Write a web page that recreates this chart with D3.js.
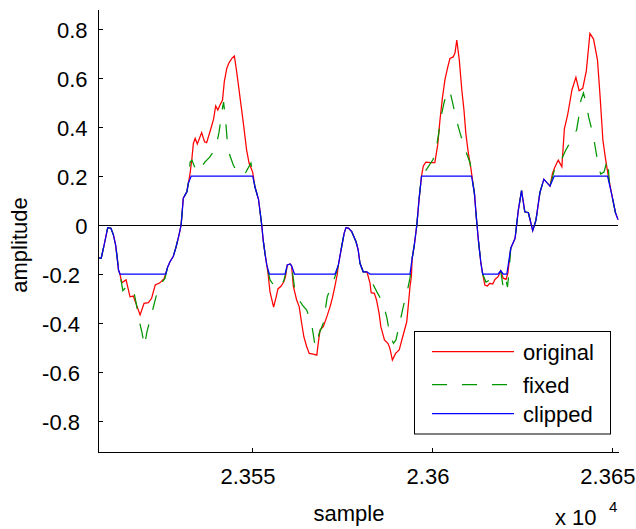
<!DOCTYPE html>
<html>
<head>
<meta charset="utf-8">
<script src="https://cdn.jsdelivr.net/npm/d3@7"></script>
<style>
    body { margin: 0; background: #fff; }
    text { font-family: "Liberation Sans", Arial, sans-serif; fill: #000; }
</style>
</head>
<body>
<div id="chart"></div>
<script>
// Clipped signal, [sample, amplitude]
const clipped = [
    [23507.2, -0.135], [23508.1, -0.135], [23509.0, -0.075], [23509.9, -0.011], [23510.8, -0.013],
    [23511.5, -0.041], [23512.1, -0.082], [23512.5, -0.129], [23512.9, -0.184], [23513.3, -0.2],
    [23526.0, -0.2], [23526.6, -0.170], [23527.2, -0.150], [23528.1, -0.129], [23528.9, -0.089],
    [23529.7, -0.041], [23530.3, 0], [23530.9, 0.109], [23531.9, 0.136], [23532.3, 0.170], [23533.1, 0.2],
    [23550.2, 0.2], [23550.8, 0.156], [23551.8, 0.105], [23552.7, 0], [23553.1, -0.061],
    [23553.6, -0.116], [23554.1, -0.163], [23554.8, -0.2],
    [23559.2, -0.2], [23559.8, -0.163], [23560.6, -0.159], [23561.0, -0.167], [23561.8, -0.2],
    [23573.1, -0.2], [23574.0, -0.163], [23574.9, -0.089], [23575.6, -0.034], [23576.1, -0.011],
    [23576.8, -0.013], [23577.7, -0.027], [23578.9, -0.068], [23579.5, -0.102], [23580.0, -0.156],
    [23580.9, -0.191], [23581.9, -0.191], [23582.8, -0.2],
    [23593.9, -0.2], [23594.5, -0.136], [23595.1, -0.082], [23595.8, 0], [23596.4, 0.102], [23597.1, 0.2],
    [23611.0, 0.2], [23611.8, 0.129], [23612.4, 0.020], [23612.9, -0.061], [23613.6, -0.156], [23614.1, -0.2],
    [23618.4, -0.2], [23619.1, -0.187], [23619.8, -0.2], [23620.8, -0.2], [23621.9, -0.095],
    [23623.1, -0.054], [23624.0, 0.061], [23624.9, 0.140], [23625.8, 0.054], [23626.8, 0.050],
    [23628.0, -0.023], [23628.9, 0.020], [23630.0, 0.132], [23631.1, 0.187], [23632.8, 0.159], [23634.0, 0.2],
    [23648.8, 0.2], [23649.9, 0.129], [23651.0, 0.050], [23651.7, 0.022]
];

// Original signal where it went past the clip level
const originalParts = [
    [[23513.3, -0.2], [23513.8, -0.236], [23515.0, -0.224], [23516.1, -0.293], [23517.0, -0.290],
     [23518.9, -0.367], [23520.0, -0.320], [23521.2, -0.317], [23522.1, -0.299], [23523.1, -0.245],
     [23524.4, -0.236], [23525.6, -0.218], [23526.6, -0.170]],
    [[23532.3, 0.170], [23532.8, 0.212], [23533.3, 0.272], [23533.7, 0.333], [23534.2, 0.354],
     [23534.8, 0.331], [23536.0, 0.377], [23536.8, 0.340], [23537.4, 0.336], [23538.6, 0.395],
     [23539.3, 0.431], [23539.9, 0.486], [23540.5, 0.469], [23541.1, 0.490], [23541.8, 0.510],
     [23542.3, 0.585], [23543.0, 0.640], [23543.6, 0.662], [23544.4, 0.680], [23545.1, 0.690],
     [23545.8, 0.619], [23546.7, 0.517], [23547.6, 0.415], [23548.5, 0.306], [23549.2, 0.252],
     [23550.2, 0.215], [23550.8, 0.156]],
    [[23554.1, -0.163], [23554.4, -0.192], [23555.0, -0.273], [23556.0, -0.335], [23556.7, -0.294],
     [23557.2, -0.261], [23558.1, -0.249], [23558.8, -0.233], [23559.3, -0.212], [23559.8, -0.163]],
    [[23561.0, -0.167], [23561.5, -0.252], [23562.4, -0.306], [23563.1, -0.333], [23563.8, -0.401],
     [23564.4, -0.456], [23565.2, -0.497], [23565.9, -0.524], [23567.0, -0.527], [23568.0, -0.531],
     [23568.4, -0.483], [23568.9, -0.429], [23569.8, -0.415], [23570.8, -0.374], [23571.7, -0.333],
     [23572.4, -0.293], [23573.1, -0.245], [23573.7, -0.2], [23574.0, -0.163]],
    [[23581.9, -0.191], [23582.2, -0.205], [23582.8, -0.238], [23583.1, -0.276], [23584.0, -0.279],
     [23584.6, -0.306], [23585.3, -0.360], [23585.8, -0.415], [23586.8, -0.469], [23587.8, -0.484],
     [23588.3, -0.503], [23589.0, -0.551], [23589.9, -0.524], [23590.9, -0.510], [23592.0, -0.449],
     [23593.0, -0.395], [23593.4, -0.333], [23593.9, -0.252], [23594.3, -0.208], [23594.5, -0.136]],
    [[23596.4, 0.102], [23597.1, 0.2], [23597.6, 0.241], [23598.3, 0.257], [23599.7, 0.255],
     [23600.8, 0.255], [23601.6, 0.327], [23602.2, 0.424], [23602.9, 0.518], [23603.6, 0.592],
     [23604.4, 0.645], [23605.0, 0.680], [23605.9, 0.686], [23606.4, 0.702], [23606.9, 0.755],
     [23607.6, 0.673], [23608.3, 0.551], [23608.9, 0.469], [23609.4, 0.376], [23610.1, 0.294],
     [23610.8, 0.233], [23611.3, 0.180], [23611.8, 0.129]],
    [[23614.1, -0.2], [23614.7, -0.245], [23615.4, -0.249], [23616.1, -0.238], [23616.9, -0.241],
     [23617.5, -0.222], [23618.4, -0.211], [23619.1, -0.187], [23619.8, -0.217], [23620.6, -0.222],
     [23621.1, -0.196], [23621.9, -0.095]],
    [[23632.8, 0.159], [23633.5, 0.211], [23634.2, 0.238], [23635.1, 0.265], [23636.1, 0.238],
     [23636.8, 0.392], [23637.7, 0.449], [23638.9, 0.551], [23640.0, 0.603], [23640.9, 0.548],
     [23641.9, 0.558], [23642.9, 0.629], [23643.9, 0.782], [23644.9, 0.759], [23646.0, 0.673],
     [23646.7, 0.530], [23647.5, 0.347], [23648.2, 0.273], [23649.0, 0.2], [23649.3, 0.176],
     [23649.9, 0.129]]
];

// Fixed (restored) signal over the same stretches
const fixedParts = [
    [[23513.3, -0.2], [23514.1, -0.268], [23515.0, -0.253], [23516.1, -0.249], [23517.0, -0.262],
     [23517.8, -0.318], [23518.6, -0.388], [23519.4, -0.437], [23520.1, -0.494], [23520.8, -0.436],
     [23521.9, -0.374], [23522.9, -0.317], [23524.0, -0.254], [23525.0, -0.233], [23525.8, -0.218],
     [23526.6, -0.170]],
    [[23532.3, 0.170], [23532.8, 0.257], [23533.3, 0.265], [23534.6, 0.216], [23535.8, 0.233],
     [23536.9, 0.257], [23538.3, 0.278], [23539.2, 0.298], [23540.2, 0.335], [23540.8, 0.376],
     [23541.8, 0.478], [23542.1, 0.502], [23542.7, 0.420], [23543.1, 0.347], [23543.6, 0.294],
     [23544.8, 0.245], [23546.1, 0.208], [23547.5, 0.204], [23548.3, 0.216], [23549.7, 0.253],
     [23550.4, 0.2], [23550.8, 0.156]],
    [[23554.1, -0.163], [23555.0, -0.224], [23555.8, -0.241], [23556.7, -0.249], [23557.8, -0.258],
     [23558.9, -0.224], [23559.4, -0.192], [23559.8, -0.163]],
    [[23561.0, -0.167], [23561.9, -0.265], [23563.1, -0.306], [23564.0, -0.327], [23565.2, -0.347],
     [23566.6, -0.408], [23567.5, -0.490], [23568.0, -0.497], [23568.6, -0.445], [23569.8, -0.401],
     [23570.9, -0.293], [23572.4, -0.238], [23573.3, -0.2], [23574.0, -0.163]],
    [[23581.9, -0.191], [23582.3, -0.2], [23583.3, -0.233], [23584.7, -0.273], [23586.4, -0.318],
     [23587.5, -0.380], [23588.3, -0.449], [23589.3, -0.483], [23590.0, -0.469], [23591.1, -0.396],
     [23592.0, -0.335], [23593.1, -0.273], [23593.9, -0.216], [23594.5, -0.136]],
    [[23596.4, 0.102], [23597.1, 0.2], [23598.1, 0.218], [23600.3, 0.267], [23601.3, 0.322],
     [23601.9, 0.376], [23602.5, 0.441], [23603.4, 0.502], [23604.2, 0.539], [23604.8, 0.551],
     [23605.3, 0.527], [23606.2, 0.469], [23606.9, 0.424], [23607.8, 0.376], [23609.0, 0.318],
     [23610.6, 0.253], [23611.1, 0.2], [23611.8, 0.129]],
    [[23614.1, -0.2], [23615.0, -0.233], [23616.1, -0.224], [23617.2, -0.208], [23618.3, -0.196],
     [23619.1, -0.187], [23619.7, -0.245], [23620.3, -0.208], [23621.0, -0.253], [23621.4, -0.192],
     [23621.9, -0.095]],
    [[23632.8, 0.159], [23634.2, 0.233], [23635.0, 0.237], [23636.3, 0.278], [23637.2, 0.306],
     [23638.3, 0.335], [23640.2, 0.388], [23640.8, 0.441], [23641.4, 0.510], [23642.1, 0.539],
     [23642.8, 0.496], [23643.6, 0.437], [23644.8, 0.367], [23645.6, 0.298], [23646.3, 0.237],
     [23646.9, 0.208], [23647.8, 0.216], [23648.8, 0.269], [23649.3, 0.176], [23649.9, 0.129]]
];

const yTicks = [-0.8, -0.6, -0.4, -0.2, 0, 0.2, 0.4, 0.6, 0.8];
const xTicks = [23550, 23600, 23650];
const xTickLabels = ['2.355', '2.36', '2.365'];

const seriesNames = ['original', 'fixed', 'clipped'];
const seriesColors = ['#ff0000', '#009600', '#0000ff'];
const seriesDash = [null, '15,15', null];

// Put the stretches back into the clipped signal to get full series
function splice(base, parts) {
    let out = base.slice();
    parts.forEach(part => {
        const s0 = part[0][0];
        const s1 = part[part.length - 1][0];
        out = out.filter(p => p[0] < s0 || p[0] > s1).concat(part);
    });
    return out.sort((a, b) => a[0] - b[0]);
}

const original = splice(clipped, originalParts);
const fixed = splice(clipped, fixedParts);
const allSeries = [original, fixed, clipped];

const width = 636;
const height = 529;

const svg = d3.select('#chart')
    .append('svg')
    .attr('width', width)
    .attr('height', height);

const x = d3.scaleLinear()
    .domain([23507.2, 23651.7])
    .range([98, 618]);

const y = d3.scaleLinear()
    .domain([-0.9265, 0.8796])
    .range([452, 9.5]);

// Zero line
svg.append('line')
    .attr('x1', x.range()[0]).attr('x2', x.range()[1])
    .attr('y1', y(0) + 0.5).attr('y2', y(0) + 0.5)
    .attr('stroke', '#000')
    .attr('stroke-width', 1)
    .attr('shape-rendering', 'crispEdges');

const line = d3.line()
    .x(d => x(d[0]))
    .y(d => y(d[1]));

allSeries.forEach((data, i) => {
    svg.append('path')
        .datum(data)
        .attr('d', line)
        .attr('fill', 'none')
        .attr('stroke', seriesColors[i])
        .attr('stroke-width', 1.25)
        .attr('stroke-dasharray', seriesDash[i]);
});

// Y axis, ticks pointing inward
const yAxis = svg.append('g')
    .attr('transform', `translate(${x.range()[0]},0)`)
    .call(d3.axisLeft(y)
        .tickValues(yTicks)
        .tickFormat(d => String(d))
        .tickSizeInner(-4.5)
        .tickSizeOuter(0)
        .tickPadding(10.5));

yAxis.selectAll('text')
    .attr('dy', '8.5px')
    .attr('dx', d => d < 0 ? -7.5 : 0)
    .style('font-size', '22px');

// X axis
const xAxis = svg.append('g')
    .attr('transform', `translate(0,${y.range()[0]})`)
    .call(d3.axisBottom(x)
        .tickValues(xTicks)
        .tickFormat((d, i) => xTickLabels[i])
        .tickSizeInner(-4.5)
        .tickSizeOuter(0));

xAxis.selectAll('text')
    .attr('y', 32)
    .attr('dy', 0)
    .attr('dx', -4.5)
    .style('font-size', '22px');

svg.selectAll('.domain, .tick line')
    .attr('stroke', '#000')
    .attr('shape-rendering', 'crispEdges');

// Axis labels
svg.append('text')
    .attr('transform', 'translate(27,245) rotate(-90)')
    .attr('text-anchor', 'middle')
    .style('font-size', '22px')
    .text('amplitude');

svg.append('text')
    .attr('x', 349)
    .attr('y', 521)
    .attr('text-anchor', 'middle')
    .style('font-size', '22px')
    .text('sample');

svg.append('text')
    .attr('x', 555)
    .attr('y', 525)
    .style('font-size', '22px')
    .text('x 10');

svg.append('text')
    .attr('x', 609)
    .attr('y', 512)
    .style('font-size', '15px')
    .text('4');

// Legend
const legend = svg.append('g');

legend.append('rect')
    .attr('x', 414.5)
    .attr('y', 331.5)
    .attr('width', 196)
    .attr('height', 102.5)
    .attr('fill', '#fff')
    .attr('stroke', '#000');

const legendRows = [351.5, 384.5, 413.5];

seriesNames.forEach((name, i) => {
    legend.append('line')
        .attr('x1', 432).attr('x2', 514)
        .attr('y1', legendRows[i]).attr('y2', legendRows[i])
        .attr('stroke', seriesColors[i])
        .attr('stroke-width', 1.25)
        .attr('stroke-dasharray', seriesDash[i]);

    legend.append('text')
        .attr('x', 523)
        .attr('y', legendRows[i] + 8.7)
        .style('font-size', '22px')
        .text(name);
});
</script>
</body>
</html>
